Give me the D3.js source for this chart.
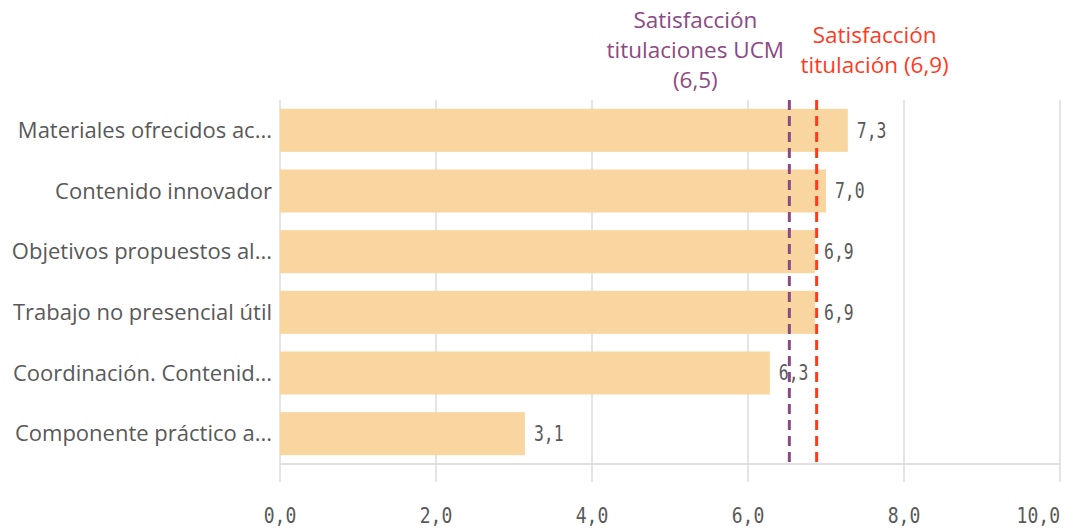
<!DOCTYPE html>
<html><head><meta charset="utf-8">
<script src="https://cdn.jsdelivr.net/npm/d3@7"></script>
<style>body{margin:0;background:#fff}svg{display:block}</style>
</head><body><svg id="c" width="1077" height="528"></svg>
<script>
const categories = ["Materiales ofrecidos ac...","Contenido innovador","Objetivos propuestos al...","Trabajo no presencial útil","Coordinación. Contenid...","Componente práctico a..."];
const values = [7.28, 7.0, 6.86, 6.86, 6.28, 3.14];
const tickValues = [0, 2, 4, 6, 8, 10];
const refLines = [
  {name:"ucm", value:6.53, lines:["Satisfacción","titulaciones UCM","(6,5)"], color:"#8b4a84"},
  {name:"tit", value:6.88, lines:["Satisfacción","titulación (6,9)"], color:"#ff3b1f"}
];

const svg = d3.select("#c");
const fmt = v => d3.format(".1f")(v).replace(".", ",");
const mLeft = 280, mRight = 1060, mTop = 100, mBottom = 464;
const x = d3.scaleLinear().domain([0, 10]).range([mLeft, mRight]);
const y = d3.scaleBand().domain(categories).range([mTop, mBottom]).paddingInner(0.29).paddingOuter(0.145);

const grid = "#d6d6d6";
svg.append("g").selectAll("line").data(tickValues).join("line")
  .attr("x1", d => x(d)).attr("x2", d => x(d))
  .attr("y1", mTop).attr("y2", mBottom + 18)
  .attr("stroke", grid).attr("stroke-width", 1.3);
svg.append("line").attr("x1", mLeft).attr("x2", mRight).attr("y1", mBottom).attr("y2", mBottom)
  .attr("stroke", grid).attr("stroke-width", 1.5);

svg.append("g").selectAll("text").data(tickValues).join("text")
  .attr("transform", d => `translate(${x(d)},523) scale(0.88,1)`)
  .attr("text-anchor", (d, i) => i === tickValues.length - 1 ? "end" : "middle")
  .attr("font-family", "DejaVu Sans Mono").attr("font-size", 20.5).attr("fill", "#595959")
  .text(d => fmt(d));

svg.append("g").selectAll("rect").data(values).join("rect")
  .attr("x", x(0)).attr("y", (d, i) => y(categories[i]))
  .attr("width", d => x(d) - x(0)).attr("height", y.bandwidth())
  .attr("fill", "#f9d6a0");

svg.append("g").selectAll("text").data(categories).join("text")
  .attr("x", mLeft - 8).attr("y", d => y(d) + y.bandwidth() / 2)
  .attr("dy", "0.35em").attr("text-anchor", "end")
  .attr("font-family", "Open Sans").attr("font-size", 22).attr("fill", "#595959")
  .text(d => d);

refLines.forEach(r => {
  svg.append("line").attr("x1", x(r.value)).attr("x2", x(r.value))
    .attr("y1", mTop).attr("y2", mBottom)
    .attr("stroke", r.color).attr("stroke-width", 3).attr("stroke-dasharray", "10,6");
});

svg.append("g").selectAll("text").data(values).join("text")
  .attr("transform", (d, i) => `translate(${x(d) + 9},${y(categories[i]) + y.bandwidth() / 2}) scale(0.8,1)`)
  .attr("dy", "0.36em")
  .attr("font-family", "DejaVu Sans Mono").attr("font-size", 20.5).attr("fill", "#595959")
  .text(d => fmt(d));

const r0 = refLines[0], r1 = refLines[1];
svg.append("text").attr("text-anchor", "middle").attr("font-family", "Open Sans").attr("font-size", 22.5)
  .attr("fill", r0.color)
  .selectAll("tspan").data(r0.lines).join("tspan")
  .attr("x", x(r0.value) - 94).attr("y", (d, i) => 28 + i * 30).text(d => d);
svg.append("text").attr("text-anchor", "middle").attr("font-family", "Open Sans").attr("font-size", 22.5)
  .attr("fill", r1.color)
  .selectAll("tspan").data(r1.lines).join("tspan")
  .attr("x", x(r1.value) + 58).attr("y", (d, i) => 43 + i * 30).text(d => d);
</script></body></html>
